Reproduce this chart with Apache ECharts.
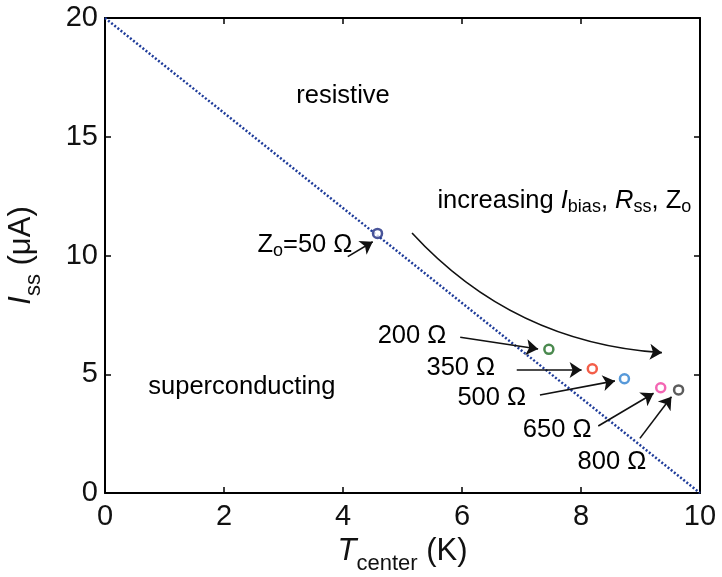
<!DOCTYPE html>
<html>
<head>
<meta charset="utf-8">
<script src="https://cdn.jsdelivr.net/npm/echarts@6/dist/echarts.min.js"></script>
<style>
  html, body { margin: 0; padding: 0; background: #fff; }
  #chart { width: 722px; height: 577px; }
</style>
</head>
<body>
<div id="chart"></div>
<script>
// boundary line between superconducting and resistive
const lineT = [0, 10]
const lineI = [20, 0]

// steady-state points for each Zo
const pointNames = ['Zo=50 Ω', '200 Ω', '350 Ω', '500 Ω', '650 Ω', '800 Ω']
const pointT = [4.58, 7.46, 8.19, 8.73, 9.34, 9.64]
const pointI = [10.93, 6.05, 5.23, 4.81, 4.43, 4.34]
const pointColors = ['#1c2a80', '#1d6b22', '#f0361c', '#2d7fd0', '#f040a0', '#333333']

const xTicks = [0, 2, 4, 6, 8, 10]
const yTicks = [0, 5, 10, 15, 20]

// arrows: [fromT, fromI, toT, toI]
const arrows = [
  [4.08, 9.95, 4.50, 10.58],
  [5.97, 6.56, 7.28, 6.06],
  [6.92, 5.18, 8.01, 5.18],
  [7.31, 4.13, 8.57, 4.72],
  [8.29, 2.82, 9.22, 4.20],
  [8.99, 2.30, 9.52, 4.05]
]
const trendArrow = [5.16, 10.95, 9.36, 5.91]

const font = 'Liberation Sans, Arial, sans-serif'
const chart = echarts.init(document.getElementById('chart'))

const sub = (s) => '{sub|' + s + '}'
const richBase = {
  n: { fontSize: 25.5, fontFamily: font, color: '#111' },
  it: { fontSize: 25.5, fontFamily: font, color: '#111', fontStyle: 'italic' },
  sub: { fontSize: 18, fontFamily: font, color: '#111', padding: [13, 0, 0, 0] }
}

// annotation texts placed at data coords (center)
const notes = [
  { t: 4.0, i: 16.7, text: '{n|resistive}' },
  { t: 2.3, i: 4.45, text: '{n|superconducting}' },
  { t: 7.72, i: 12.3, text: '{n|increasing }{it|I}' + sub('bias') + '{n|, }{it|R}' + sub('ss') + '{n|, Z}' + sub('o') },
  { t: 3.36, i: 10.45, text: '{n|Z}' + sub('o') + '{n|=50 Ω}' },
  { t: 5.16, i: 6.6, text: '{n|' + pointNames[1] + '}' },
  { t: 5.98, i: 5.26, text: '{n|' + pointNames[2] + '}' },
  { t: 6.5, i: 4.0, text: '{n|' + pointNames[3] + '}' },
  { t: 7.6, i: 2.65, text: '{n|' + pointNames[4] + '}' },
  { t: 8.52, i: 1.3, text: '{n|' + pointNames[5] + '}' }
]

const axisCommon = {
  type: 'value',
  axisLine: { show: true, onZero: false, lineStyle: { color: '#000', width: 2 } },
  axisTick: { show: true, inside: true, length: 6, lineStyle: { color: '#000', width: 1.5 } },
  splitLine: { show: false }
}

const nameRich = {
  n: { fontSize: 31, fontFamily: font, color: '#111' },
  it: { fontSize: 31, fontFamily: font, color: '#111', fontStyle: 'italic' },
  sub: { fontSize: 22, fontFamily: font, color: '#111', padding: [26, 0, 0, 0] }
}

const arrowSeries = (list, curveness) => ({
  type: 'lines',
  coordinateSystem: 'cartesian2d',
  silent: true,
  symbol: ['none', 'arrow'],
  symbolSize: [9, 12],
  lineStyle: { color: '#111', width: 1.6, opacity: 1, curveness: curveness },
  data: list.map(a => ({ coords: [[a[0], a[1]], [a[2], a[3]]] })),
  z: 4
})

chart.setOption({
  animation: false,
  backgroundColor: '#fff',
  grid: { left: 105, right: 22, top: 18, bottom: 84, containLabel: false, outerBoundsMode: 'none' },
  xAxis: [
    {
      ...axisCommon,
      min: 0, max: 10, interval: 2,
      axisLabel: { fontSize: 29, fontFamily: font, color: '#111', margin: 9,
        formatter: v => xTicks.includes(v) ? String(v) : '' },
      name: '{it|T}{sub|center}{n| (K)}',
      nameLocation: 'middle',
      nameGap: 31,
      nameTextStyle: { rich: nameRich }
    },
    { ...axisCommon, position: 'top', min: 0, max: 10, interval: 2, axisLabel: { show: false } }
  ],
  yAxis: [
    {
      ...axisCommon,
      min: 0, max: 20, interval: 5,
      axisLabel: { fontSize: 29, fontFamily: font, color: '#111', margin: 7,
        formatter: v => yTicks.includes(v) ? String(v) : '' },
      name: '{it|I}{sub|ss}{n| (μA)}',
      nameLocation: 'middle',
      nameGap: 60,
      nameRotate: 90,
      nameTextStyle: { rich: nameRich }
    },
    { ...axisCommon, position: 'right', min: 0, max: 20, interval: 5, axisLabel: { show: false } }
  ],
  series: [
    {
      type: 'line',
      data: lineT.map((t, k) => [t, lineI[k]]),
      symbol: 'none',
      lineStyle: { color: '#1f3c9a', width: 2.5, type: [2, 2] },
      z: 2
    },
    {
      type: 'scatter',
      data: pointT.map((t, k) => ({
        value: [t, pointI[k]],
        name: pointNames[k],
        itemStyle: { color: '#fff', borderColor: pointColors[k], borderWidth: 2.5 }
      })),
      symbol: 'circle',
      symbolSize: 9,
      z: 5
    },
    arrowSeries(arrows, 0),
    arrowSeries([trendArrow], -0.2)
  ]
})

function placeNotes() {
  chart.setOption({
    graphic: notes.map(n => {
      const p = chart.convertToPixel({ gridIndex: 0 }, [n.t, n.i])
      return {
        type: 'text',
        x: p[0], y: p[1],
        style: { text: n.text, rich: richBase, align: 'center', verticalAlign: 'middle' },
        z: 10
      }
    })
  })
}
placeNotes()
</script>
</body>
</html>
